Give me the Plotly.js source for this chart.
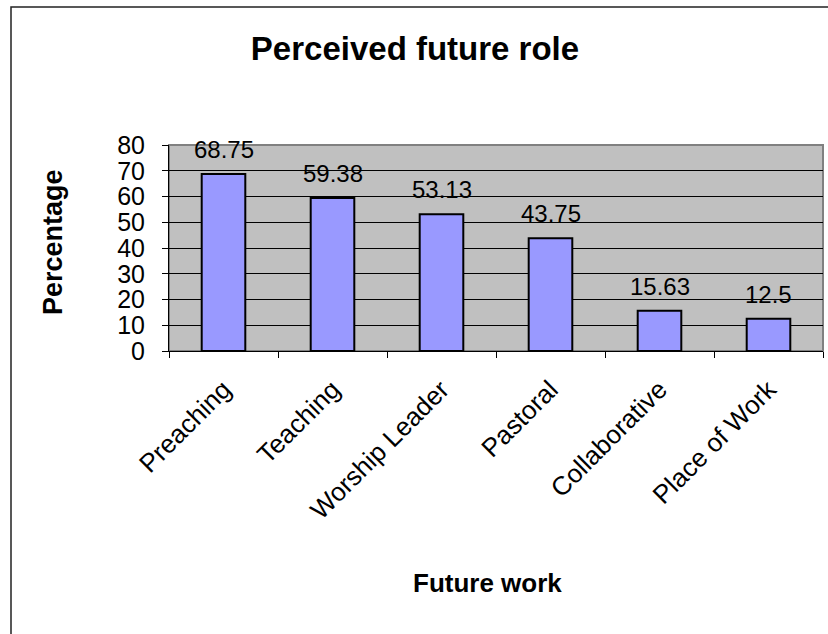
<!DOCTYPE html>
<html>
<head>
<meta charset="utf-8">
<script src="https://cdn.plot.ly/plotly-3.0.1.min.js"></script>
<style>html,body{margin:0;padding:0;background:#fff;}#chart{width:828px;height:634px;}</style>
</head>
<body>
<div id="chart"></div>
<script>
const categories = ["Preaching", "Teaching", "Worship Leader", "Pastoral", "Collaborative", "Place of Work"];
const percentages = [68.75, 59.38, 53.13, 43.75, 15.63, 12.5];
const valueLabels = ["68.75", "59.38", "53.13", "43.75", "15.63", "12.5"];
const yTicks = [0, 10, 20, 30, 40, 50, 60, 70, 80];

const font = "Liberation Sans, Arial, sans-serif";

const trace = {
  type: "bar",
  x: categories,
  y: percentages,
  marker: { color: "#9999FF", line: { color: "#000000", width: 2 } },
  hoverinfo: "none"
};

const annotations = categories.map((c, i) => ({
  x: c, y: percentages[i], xref: "x", yref: "y",
  text: valueLabels[i], showarrow: false, yanchor: "bottom", yshift: 9,
  font: { family: font, size: 24, color: "#000" }
}));
annotations.push({
  xref: "paper", yref: "paper", x: (53 - 169) / 654, y: (351 - 242) / 206, text: "<b>Percentage</b>",
  textangle: -90, showarrow: false, xanchor: "center", yanchor: "middle",
  font: { family: font, size: 27, color: "#000" }
});
annotations.push({
  xref: "paper", yref: "paper", x: (487 - 169) / 654, y: (351 - 583) / 206, text: "<b>Future work</b>",
  showarrow: false, xanchor: "center", yanchor: "middle",
  font: { family: font, size: 26, color: "#000" }
});

const layout = {
  width: 828, height: 634,
  margin: { l: 169, r: 5, t: 145, b: 283 },
  paper_bgcolor: "#ffffff",
  plot_bgcolor: "#C0C0C0",
  showlegend: false,
  bargap: 0.6,
  title: {
    text: "<b>Perceived future role</b>",
    x: 415 / 828, xref: "container", xanchor: "center",
    y: 1 - 48 / 634, yref: "container", yanchor: "middle",
    font: { family: font, size: 33, color: "#000" }
  },
  xaxis: {
    type: "category",
    tickangle: -45,
    tickfont: { family: font, size: 26, color: "#000" },
    ticks: "outside", ticklen: 6, tickcolor: "#000", tickwidth: 1,
    ticklabelstandoff: 12,
    tickson: "boundaries",
    showline: true, linecolor: "#000", linewidth: 1,
    showgrid: false, zeroline: false, fixedrange: true
  },
  yaxis: {
    range: [0, 80],
    tickvals: yTicks,
    tickfont: { family: font, size: 25, color: "#000" },
    ticks: "outside", ticklen: 6, tickcolor: "#000", tickwidth: 1,
    ticklabelstandoff: 12,
    showline: true, linecolor: "#000", linewidth: 1,
    showgrid: true, gridcolor: "#000000", gridwidth: 1,
    zeroline: false, fixedrange: true
  },
  shapes: [
    { type: "rect", xref: "paper", yref: "paper", x0: 0, x1: 1, y0: 0, y1: 1,
      line: { color: "#808080", width: 2 }, layer: "below" },
    { type: "rect", xref: "paper", yref: "paper",
      x0: (11 - 169) / 654, x1: (860 - 169) / 654,
      y0: (351 - 660) / 206, y1: (351 - 7) / 206,
      line: { color: "#222", width: 1.5 }, fillcolor: "rgba(0,0,0,0)", layer: "above" }
  ],
  annotations: annotations
};

Plotly.newPlot("chart", [trace], layout, { displayModeBar: false, staticPlot: true });
</script>
</body>
</html>
